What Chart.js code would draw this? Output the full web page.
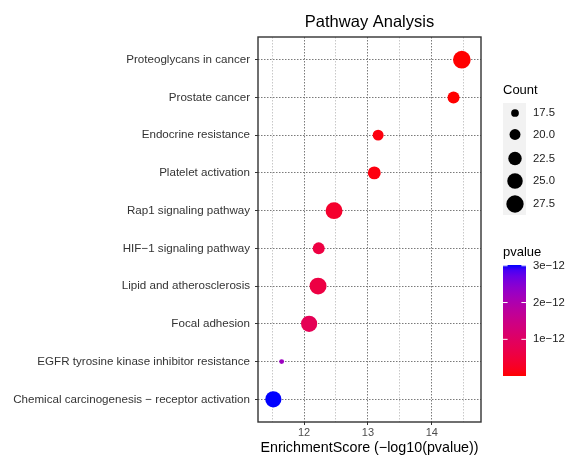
<!DOCTYPE html>
<html>
<head>
<meta charset="utf-8">
<script src="https://cdn.jsdelivr.net/npm/chart.js@4.4.0/dist/chart.umd.min.js"></script>
<style>
  body { margin: 0; background: #fff; }
  canvas { display: block; }
</style>
</head>
<body>
<canvas id="grafico" width="568" height="455"></canvas>
<script>
// Datos (de arriba hacia abajo)
const pathways = [
    'Proteoglycans in cancer',
    'Prostate cancer',
    'Endocrine resistance',
    'Platelet activation',
    'Rap1 signaling pathway',
    'HIF−1 signaling pathway',
    'Lipid and atherosclerosis',
    'Focal adhesion',
    'EGFR tyrosine kinase inhibitor resistance',
    'Chemical carcinogenesis − receptor activation'
];
const enrichment = [14.47, 14.34, 13.16, 13.10, 12.47, 12.23, 12.22, 12.08, 11.65, 11.52];
const counts = [28, 21, 20, 22, 27, 21, 27, 26, 16, 26];
const pvalues = [3.4e-15, 4.6e-15, 6.9e-14, 7.9e-14, 3.4e-13, 5.9e-13, 6.0e-13, 8.3e-13, 2.24e-12, 3.02e-12];

const xTicks = [11.5, 12, 12.5, 13, 13.5, 14, 14.5];
const sizeBreaks = [17.5, 20, 22.5, 25, 27.5];
const sizeBreakLabels = ['17.5', '20.0', '22.5', '25.0', '27.5'];
const pvalueBreaks = [1e-12, 2e-12, 3e-12];
const pvalueBreakLabels = ['1e−12', '2e−12', '3e−12'];

const FONT = '"Liberation Sans", Arial, sans-serif';

// Tamaño del punto: área proporcional al conteo
function radio(c) {
    return Math.sqrt(Math.max(6 * c - 90, 1));
}

// Gradiente rojo -> azul interpolado en espacio Lab (como ggplot)
function toLab(rgb) {
    const lin = rgb.map(v => { v /= 255; return v <= 0.04045 ? v / 12.92 : Math.pow((v + 0.055) / 1.055, 2.4); });
    const X = (0.4124 * lin[0] + 0.3576 * lin[1] + 0.1805 * lin[2]) / 0.95047;
    const Y = (0.2126 * lin[0] + 0.7152 * lin[1] + 0.0722 * lin[2]);
    const Z = (0.0193 * lin[0] + 0.1192 * lin[1] + 0.9505 * lin[2]) / 1.08883;
    const f = t => t > 0.008856 ? Math.cbrt(t) : 7.787 * t + 16 / 116;
    return [116 * f(Y) - 16, 500 * (f(X) - f(Y)), 200 * (f(Y) - f(Z))];
}
function fromLab(lab) {
    const fy = (lab[0] + 16) / 116, fx = fy + lab[1] / 500, fz = fy - lab[2] / 200;
    const inv = t => t * t * t > 0.008856 ? t * t * t : (t - 16 / 116) / 7.787;
    const X = inv(fx) * 0.95047, Y = inv(fy), Z = inv(fz) * 1.08883;
    const lin = [
        3.2406 * X - 1.5372 * Y - 0.4986 * Z,
        -0.9689 * X + 1.8758 * Y + 0.0415 * Z,
        0.0557 * X - 0.2040 * Y + 1.0570 * Z
    ];
    return lin.map(v => {
        v = v <= 0.0031308 ? 12.92 * v : 1.055 * Math.pow(v, 1 / 2.4) - 0.055;
        return Math.round(Math.min(1, Math.max(0, v)) * 255);
    });
}
const labLow = toLab([255, 0, 0]);
const labHigh = toLab([0, 0, 255]);
const pMin = Math.min(...pvalues);
const pMax = Math.max(...pvalues);
function colorP(p) {
    const t = Math.min(1, Math.max(0, (p - pMin) / (pMax - pMin)));
    const c = fromLab(labLow.map((v, i) => v + (labHigh[i] - v) * t));
    return 'rgb(' + c.join(',') + ')';
}

// Título, marco del panel y leyendas
const extras = {
    id: 'extras',
    afterDatasetsDraw(chart) {
        const ctx = chart.ctx;
        const a = chart.chartArea;
        ctx.save();
        ctx.strokeStyle = '#333';
        ctx.lineWidth = 1.4;
        ctx.strokeRect(a.left, a.top, a.right - a.left, a.bottom - a.top);
        ctx.restore();
    },
    afterDraw(chart) {
        const ctx = chart.ctx;
        const a = chart.chartArea;
        ctx.save();
        ctx.fillStyle = '#000';
        ctx.font = '16.5px ' + FONT;
        ctx.textAlign = 'center';
        ctx.textBaseline = 'alphabetic';
        ctx.fillText('Pathway Analysis', (a.left + a.right) / 2, 27);

        // Leyenda de tamaño
        ctx.textAlign = 'left';
        ctx.textBaseline = 'middle';
        ctx.font = '13px ' + FONT;
        ctx.fillStyle = '#000';
        ctx.fillText('Count', 503, 90);
        ctx.fillStyle = '#f2f2f2';
        ctx.fillRect(503, 103, 23, 112);
        const keyY = [113, 134.5, 158.5, 181, 204];
        ctx.font = '11.3px ' + FONT;
        sizeBreaks.forEach((b, i) => {
            ctx.fillStyle = '#000';
            ctx.beginPath();
            ctx.arc(515, keyY[i], radio(b), 0, Math.PI * 2);
            ctx.fill();
            ctx.fillStyle = '#1a1a1a';
            ctx.fillText(sizeBreakLabels[i], 533, keyY[i]);
        });

        // Barra de color
        ctx.font = '13px ' + FONT;
        ctx.fillStyle = '#000';
        ctx.fillText('pvalue', 503, 252);
        const top = 265, bottom = 376, x0 = 503, w = 23;
        const grad = ctx.createLinearGradient(0, bottom, 0, top);
        for (let i = 0; i <= 20; i++) {
            grad.addColorStop(i / 20, colorP(pMin + (pMax - pMin) * i / 20));
        }
        ctx.fillStyle = grad;
        ctx.fillRect(x0, top, w, bottom - top);
        ctx.font = '11.3px ' + FONT;
        pvalueBreaks.forEach((b, i) => {
            const y = bottom - (b - pMin) / (pMax - pMin) * (bottom - top);
            ctx.strokeStyle = '#fff';
            ctx.lineWidth = 1;
            ctx.beginPath();
            ctx.moveTo(x0, y); ctx.lineTo(x0 + 4.6, y);
            ctx.moveTo(x0 + w - 4.6, y); ctx.lineTo(x0 + w, y);
            ctx.stroke();
            ctx.fillStyle = '#1a1a1a';
            ctx.fillText(pvalueBreakLabels[i], 533, y);
        });
        ctx.restore();
    }
};

const canvas = document.getElementById('grafico');

new Chart(canvas, {
    type: 'bubble',
    data: {
        datasets: [{
            data: enrichment.map((x, i) => ({ x: x, y: i + 1, r: radio(counts[i]) })),
            backgroundColor: pvalues.map(colorP),
            borderWidth: 0,
            hoverRadius: 0
        }]
    },
    options: {
        responsive: false,
        animation: false,
        events: [],
        layout: { padding: { top: 37, right: 87, left: 0, bottom: 0 } },
        plugins: {
            legend: { display: false },
            tooltip: { enabled: false }
        },
        scales: {
            x: {
                type: 'linear',
                min: 11.28,
                max: 14.77,
                afterBuildTicks: s => { s.ticks = xTicks.map(v => ({ value: v })); },
                afterFit: s => { s.height = 33; },
                ticks: {
                    autoSkip: false,
                    maxRotation: 0,
                    padding: 1.5,
                    color: '#4d4d4d',
                    font: { family: FONT, size: 11 },
                    callback: v => Number.isInteger(v) ? String(v) : ''
                },
                grid: {
                    color: c => Number.isInteger(c.tick.value) ? '#7a7a7a' : '#c8c8c8',
                    lineWidth: 1,
                    tickLength: 3,
                    tickColor: c => Number.isInteger(c.tick.value) ? '#333' : 'rgba(0,0,0,0)'
                },
                border: { display: false, dash: [1.5, 1.5] },
                title: {
                    display: true,
                    text: 'EnrichmentScore (−log10(pvalue))',
                    color: '#000',
                    font: { family: FONT, size: 14.3, lineHeight: 1 },
                    padding: 0
                }
            },
            y: {
                type: 'linear',
                min: 0.4,
                max: 10.6,
                reverse: true,
                afterBuildTicks: s => { s.ticks = pathways.map((p, i) => ({ value: i + 1 })); },
                afterFit: s => { s.width = 258; },
                ticks: {
                    autoSkip: false,
                    padding: 5,
                    color: '#333',
                    font: { family: FONT, size: 11.6 },
                    callback: v => pathways[v - 1]
                },
                grid: {
                    color: '#7a7a7a',
                    lineWidth: 1,
                    tickLength: 3,
                    tickColor: '#333'
                },
                border: { display: false, dash: [1.5, 1.5] }
            }
        }
    },
    plugins: [extras]
});
</script>
</body>
</html>
